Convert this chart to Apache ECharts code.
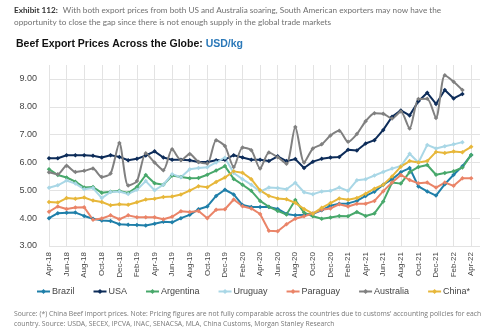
<!DOCTYPE html>
<html>
<head>
<meta charset="utf-8">
<script src="https://cdn.jsdelivr.net/npm/echarts@6/dist/echarts.min.js"></script>
<style>
  html, body { margin: 0; padding: 0; background: #fff; }
  #chart { width: 500px; height: 334px; }
</style>
</head>
<body>
<div id="chart"></div>
<script>
// Monthly categories; the trailing May-22 slot only pads the right edge of the plot.
const months = [
  'Apr-18','May-18','Jun-18','Jul-18','Aug-18','Sep-18','Oct-18','Nov-18','Dec-18','Jan-19','Feb-19','Mar-19',
  'Apr-19','May-19','Jun-19','Jul-19','Aug-19','Sep-19','Oct-19','Nov-19','Dec-19','Jan-20','Feb-20','Mar-20',
  'Apr-20','May-20','Jun-20','Jul-20','Aug-20','Sep-20','Oct-20','Nov-20','Dec-20','Jan-21','Feb-21','Mar-21',
  'Apr-21','May-21','Jun-21','Jul-21','Aug-21','Sep-21','Oct-21','Nov-21','Dec-21','Jan-22','Feb-22','Mar-22',
  'Apr-22','May-22'
];

// Export prices, USD/kg
const brazil = [4.00,4.18,4.19,4.20,4.08,3.98,3.92,3.90,3.78,3.76,3.75,3.74,
  3.80,3.87,3.85,4.00,4.12,4.32,4.42,4.80,5.02,4.85,4.47,4.40,
  4.40,4.40,4.33,4.15,4.10,4.12,4.16,4.28,4.45,4.52,4.53,4.62,
  4.80,4.95,5.20,5.40,5.65,5.80,5.14,4.96,4.81,5.22,5.56,5.86,6.27];
const usa = [6.15,6.15,6.26,6.26,6.26,6.24,6.18,6.26,6.20,6.08,6.13,6.25,
  6.40,6.18,6.10,6.10,6.08,6.02,6.02,6.08,6.10,6.26,6.18,6.10,
  6.10,6.05,6.22,6.05,6.12,5.80,6.03,6.13,6.18,6.20,6.46,6.43,
  6.68,6.80,7.17,7.64,7.87,7.69,8.20,8.50,8.10,8.60,8.30,8.46];
const argentina = [5.76,5.55,5.46,5.31,5.10,5.12,4.91,4.95,4.98,4.90,5.12,5.55,
  5.25,5.20,5.53,5.48,5.43,5.44,5.56,5.71,5.87,5.41,5.20,4.98,
  4.62,4.41,4.26,4.13,4.65,4.20,4.07,3.98,4.02,4.08,4.07,4.22,
  4.08,4.17,4.60,5.28,5.24,5.65,5.84,5.91,5.56,5.62,5.68,5.82,6.27];
const uruguay = [5.09,5.18,5.35,5.24,5.04,5.08,4.72,4.94,4.96,4.87,5.02,5.33,
  5.00,5.20,5.58,5.47,5.76,5.80,5.83,6.00,6.17,5.62,5.40,5.20,
  4.95,5.10,5.08,5.04,5.27,4.93,4.86,4.96,4.98,5.10,4.98,5.36,
  5.40,5.53,5.66,5.78,5.87,6.31,6.00,6.63,6.50,6.58,6.65,6.73];
const paraguay = [4.23,4.42,4.33,4.38,4.39,3.94,3.99,4.10,3.96,4.10,4.03,4.03,
  4.03,3.96,4.05,4.25,4.22,4.26,4.00,4.30,4.32,4.67,4.43,4.35,
  4.15,3.55,3.53,3.78,3.98,4.07,4.17,4.30,4.35,4.50,4.42,4.52,
  4.52,4.62,4.97,5.28,5.55,5.37,5.25,5.28,5.10,5.28,5.16,5.43,5.43];
const australia = [5.65,5.58,5.88,5.66,5.70,5.78,5.48,5.60,6.70,5.17,5.33,6.33,
  6.00,5.72,6.47,6.08,6.30,6.02,5.96,6.80,6.59,5.84,6.54,6.44,
  5.78,6.36,6.19,5.95,7.27,6.00,6.50,6.65,6.97,7.14,6.74,7.02,
  7.48,7.77,7.75,7.58,7.83,7.22,8.28,8.29,7.60,9.13,8.90,8.60];
const china = [4.58,4.56,4.72,4.70,4.74,4.63,4.58,4.46,4.50,4.48,4.57,4.67,
  4.70,4.76,4.78,4.85,4.99,5.15,5.11,5.30,5.46,5.68,5.63,5.40,
  5.00,4.80,4.71,4.68,4.55,4.33,4.16,4.37,4.54,4.71,4.66,4.72,
  4.88,5.06,5.20,5.50,5.85,6.05,6.00,6.05,6.38,6.34,6.39,6.37,6.56];

const seriesNames = ['Brazil','USA','Argentina','Uruguay','Paraguay','Australia','China*'];
const seriesData = [brazil, usa, argentina, uruguay, paraguay, australia, china];
const seriesColors = ['#1f7fa9','#0d2c59','#48a86b','#a9d7e6','#ea8468','#808080','#e7b73a'];

const chart = echarts.init(document.getElementById('chart'));

const series = seriesNames.map((name, i) => ({
  name: name,
  type: 'line',
  data: seriesData[i],
  smooth: name === 'Australia' ? 0.25 : false,
  symbol: 'diamond',
  symbolSize: 4.5,
  showSymbol: true,
  lineStyle: { width: 2, color: seriesColors[i] },
  itemStyle: { color: seriesColors[i] },
  emphasis: { disabled: true },
  animation: false
}));

const noteStyle = {
  lineHeight: 10,
  rich: {
    b: { fontFamily: 'Lato', fontWeight: 'bold', fontSize: 8.2, color: '#333', lineHeight: 10 },
    n: { fontFamily: 'Lato', fontWeight: 'normal', fontSize: 8.2, color: '#707070', lineHeight: 10 }
  }
};

chart.setOption({
  animation: false,
  title: [
    {
      left: 14, top: 5, padding: 0,
      text: '{b|Exhibit 112:} {n|With both export prices from both US and Australia soaring, South American exporters may now have the}',
      textStyle: noteStyle
    },
    {
      left: 14, top: 17, padding: 0,
      text: '{n|opportunity to close the gap since there is not enough supply in the global trade markets}',
      textStyle: noteStyle
    },
    {
      left: 16, top: 39, padding: 0,
      text: '{b|Beef Export Prices Across the Globe: }{u|USD/kg}',
      textStyle: {
        rich: {
          b: { fontFamily: 'Liberation Sans', fontWeight: 'bold', fontSize: 10.5, color: '#111' },
          u: { fontFamily: 'Liberation Sans', fontWeight: 'bold', fontSize: 10.5, color: '#2a78b8' }
        }
      }
    },
    {
      left: 14, top: 309, padding: 0,
      text: 'Source: (*) China Beef import prices. Note: Pricing figures are not fully comparable across the countries due to customs\' accounting policies for each\ncountry. Source: USDA, SECEX, IPCVA, INAC, SENACSA, MLA, China Customs, Morgan Stanley Research',
      textStyle: { fontFamily: 'Open Sans', fontSize: 6.8, color: '#777', fontWeight: 'normal', lineHeight: 10 }
    }
  ],
  legend: {
    left: 31, top: 282, width: 470,
    itemWidth: 13, itemHeight: 6, itemGap: 18,
    textStyle: { fontFamily: 'Liberation Sans', fontSize: 9, color: '#444', padding: [0, 0, 0, -3] },
    data: seriesNames
  },
  grid: { left: 49, right: 20, top: 65, bottom: 88 },
  xAxis: {
    type: 'category',
    data: months,
    boundaryGap: false,
    axisLine: { show: false },
    axisTick: { show: false },
    axisLabel: {
      interval: 1, rotate: 90, margin: 6,
      fontFamily: 'Liberation Sans', fontSize: 8, color: '#444'
    },
    splitLine: { show: true, interval: 1, lineStyle: { color: '#e3e3e3', width: 1 } }
  },
  yAxis: {
    type: 'value',
    min: 3, max: 9.5, interval: 1,
    axisLine: { show: false },
    axisTick: { show: false },
    axisLabel: {
      showMaxLabel: false, margin: 12,
      fontFamily: 'Liberation Sans', fontSize: 9, color: '#444',
      formatter: v => v.toFixed(2)
    },
    splitLine: { show: true, showMaxLine: false, lineStyle: { color: '#e3e3e3', width: 1 } }
  },
  series: series
});
</script>
</body>
</html>
